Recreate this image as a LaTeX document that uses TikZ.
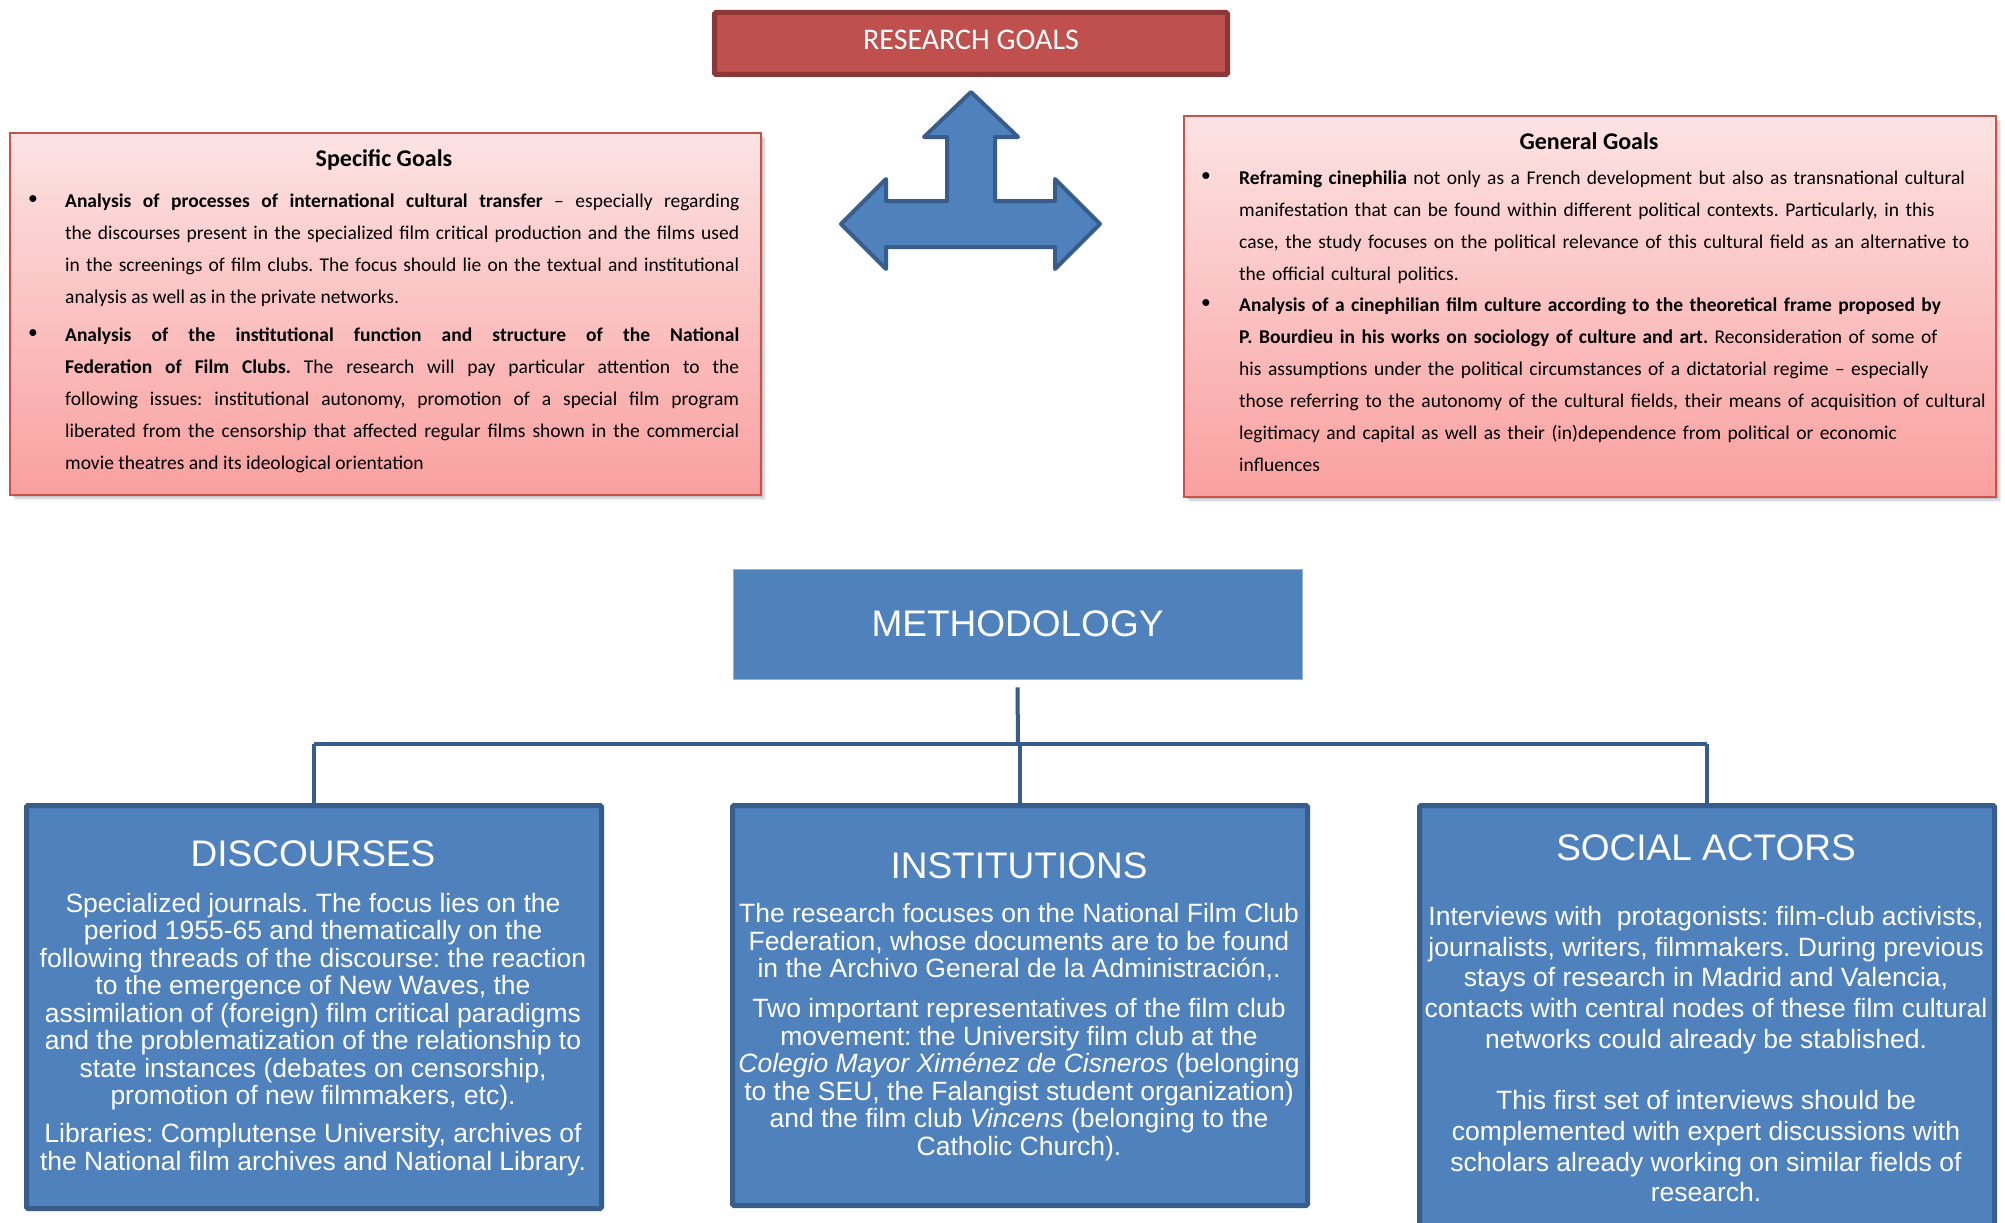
\documentclass[tikz,border=0pt]{standalone}
\usepackage{fontspec}
\setmainfont{Liberation Sans}
\newfontfamily\calfont{Carlito}
\usetikzlibrary{calc}
\frenchspacing
\definecolor{blueF}{HTML}{4F81BD}
\definecolor{blueD}{HTML}{385D8A}
\definecolor{redF}{HTML}{C0504D}
\definecolor{redD}{HTML}{8C3836}
\definecolor{pinkT}{HTML}{FDE3E4}
\definecolor{pinkB}{HTML}{F9A09F}
\definecolor{pinkL}{HTML}{C9524F}
\begin{document}
\begin{tikzpicture}[x=1pt,y=-1pt,
  pinkbox/.style={draw=pinkL, line width=1.6pt, top color=pinkT, bottom color=pinkB, anchor=north west, inner sep=0pt},
  bluebox/.style={draw=blueD, line width=5pt, fill=blueF, rounded corners=1.5pt, anchor=north west, inner sep=0pt},
  ptext/.style={font=\calfont\fontsize{19.5}{32}\selectfont, inner sep=0pt, anchor=north west},
  bul/.style={font=\calfont\fontsize{19.5}{32}\selectfont, inner sep=0pt},
  btitle/.style={font=\fontsize{37}{40}\selectfont, text=white, inner sep=0pt},
  btext/.style={font=\fontsize{26.5}{27.5}\selectfont, text=white, inner sep=0pt, align=center, anchor=north},
  conn/.style={draw=blueD, line width=4pt},
  arrowshape/.style={fill=blueF, draw=blueD, line width=4pt, line join=round}
]
\clip (0,0) rectangle (2005,1223);
\fill[white] (0,0) rectangle (2005,1223);

% RESEARCH GOALS
\node[draw=redD, line width=5pt, fill=redF, rounded corners=1.5pt, minimum width=513pt, minimum height=62pt,
  inner sep=0pt] (rg) at (971,43.5) {};
\node[font=\calfont\fontsize{30}{32}\selectfont, text=white, inner sep=0pt] (rgt) at (971,39.5) {RESEARCH GOALS};

% three-way arrow
\draw[arrowshape] (971,92) -- (1018,137) -- (995,137) -- (995,201) -- (1055,201) -- (1055,179) -- (1100,224)
  -- (1055,269) -- (1055,247) -- (886,247) -- (886,269) -- (841,224) -- (886,179) -- (886,201)
  -- (947,201) -- (947,137) -- (924,137) -- cycle;

% shadows
\foreach \d/\o in {6/0.06,4.5/0.08,3/0.12} {
  \fill[black, opacity=\o] (9+\d,132+\d) rectangle (760+\d,494+\d);
  \fill[black, opacity=\o] (1183+\d,115+\d) rectangle (1995+\d,496+\d);
}

% Specific goals
\node[pinkbox, minimum width=751pt, minimum height=362pt] (spec) at (9,132) {};
\node[font=\calfont\bfseries\fontsize{24}{26}\selectfont, inner sep=0pt] (spect) at (384,159.5) {Specific Goals};
\node[bul] (sb1) at (33,200.5) {•};
\node[ptext, text width=674pt, align=justify] (st1) at (65,193.2) {\textbf{Analysis of processes of international cultural transfer} – especially regarding\linebreak
the discourses present in the specialized film critical production and the films used\linebreak
in the screenings of film clubs. The focus should lie on the textual and institutional\linebreak
analysis as well as in the private networks.};
\node[bul] (sb2) at (33,334.5) {•};
\node[ptext, text width=674pt, align=justify] (st2) at (65,327.5) {\textbf{Analysis of the institutional function and structure of the National}\linebreak
\textbf{Federation of Film Clubs.} The research will pay particular attention to the\linebreak
following issues: institutional autonomy, promotion of a special film program\linebreak
liberated from the censorship that affected regular films shown in the commercial\linebreak
movie theatres and its ideological orientation};

% General goals
\node[pinkbox, minimum width=812pt, minimum height=381pt] (gen) at (1183,115) {};
\node[font=\calfont\bfseries\fontsize{24}{26}\selectfont, inner sep=0pt] (gent) at (1589,141) {General Goals};
\node[bul] (gb1) at (1206,177.5) {•};
\node[ptext, text width=800pt, align=left] (gt1) at (1239,170.2) {\hyphenpenalty=10000\relax\textbf{Reframing cinephilia} not only as a French development but also as transnational cultural\\
manifestation that can be found within different political contexts. Particularly, in this\\
case, the study focuses on the political relevance of this cultural field as an alternative to\\
the official cultural politics.};
\node[bul] (gb2) at (1206,304.5) {•};
\node[ptext, text width=800pt, align=left] (gt2) at (1239,297.5) {\hyphenpenalty=10000\relax\textbf{Analysis of a cinephilian film culture according to the theoretical frame proposed by}\\
\textbf{P. Bourdieu in his works on sociology of culture and art.} Reconsideration of some of\\
his assumptions under the political circumstances of a dictatorial regime – especially\\
those referring to the autonomy of the cultural fields, their means of acquisition of cultural\\
legitimacy and capital as well as their (in)dependence from political or economic\\
influences};

% METHODOLOGY
\node[fill=blueF, draw=blueF!60!white, line width=0.8pt, minimum width=569pt, minimum height=110pt,
  font=\fontsize{37}{40}\selectfont, text=white, inner sep=0pt] (meth) at (1017.5,624) {METHODOLOGY};

% three boxes
\node[bluebox, minimum width=575pt, minimum height=403pt] (disc) at (24,803) {};
\node[bluebox, minimum width=575pt, minimum height=400pt] (inst) at (730,803) {};
\node[bluebox, minimum width=575pt, minimum height=440pt] (soc) at (1417,803) {};

% connectors
\coordinate (hub) at (1018,744);
\draw[conn] ([yshift=-8pt]meth.south) -- (hub);
\draw[conn] (hub -| disc.north) -- (hub -| soc.north);
\draw[conn] (hub -| disc.north) -- (disc.north);
\draw[conn] (hub -| inst.north) -- (inst.north);
\draw[conn] (hub -| soc.north) -- (soc.north);

% DISCOURSES
\node[btitle] (disct) at (313,854) {DISCOURSES};
\node[btext] (discx) at (313,892.6) {Specialized journals. The focus lies on the\\
period 1955-65 and thematically on the\\
following threads of the discourse: the reaction\\
to the emergence of New Waves, the\\
assimilation of (foreign) film critical paradigms\\
and the problematization of the relationship to\\
state instances (debates on censorship,\\
promotion of new filmmakers, etc).\\[10.5pt]
Libraries: Complutense University, archives of\\
the National film archives and National Library.};

% INSTITUTIONS
\node[btitle] (instt) at (1019,866) {INSTITUTIONS};
\node[btext] (instx) at (1019,903.1) {The research focuses on the National Film Club\\
Federation, whose documents are to be found\\
in the Archivo General de la Administración,.\\[12.5pt]
Two important representatives of the film club\\
movement: the University film club at the\\
\textit{Colegio Mayor Ximénez de Cisneros} (belonging\\
to the SEU, the Falangist student organization)\\
and the film club \textit{Vincens} (belonging to the\\
Catholic Church).};

% SOCIAL ACTORS
\node[btitle] (soct) at (1706,848) {SOCIAL ACTORS};
\node[btext, font=\fontsize{26.5}{30.7}\selectfont] (socx) at (1706,906.1) {Interviews with\ \ protagonists: film-club activists,\\
journalists, writers, filmmakers. During previous\\
stays of research in Madrid and Valencia,\\
contacts with central nodes of these film cultural\\
networks could already be stablished.\\[30.7pt]
This first set of interviews should be\\
complemented with expert discussions with\\
scholars already working on similar fields of\\
research.};
\end{tikzpicture}
\end{document}
